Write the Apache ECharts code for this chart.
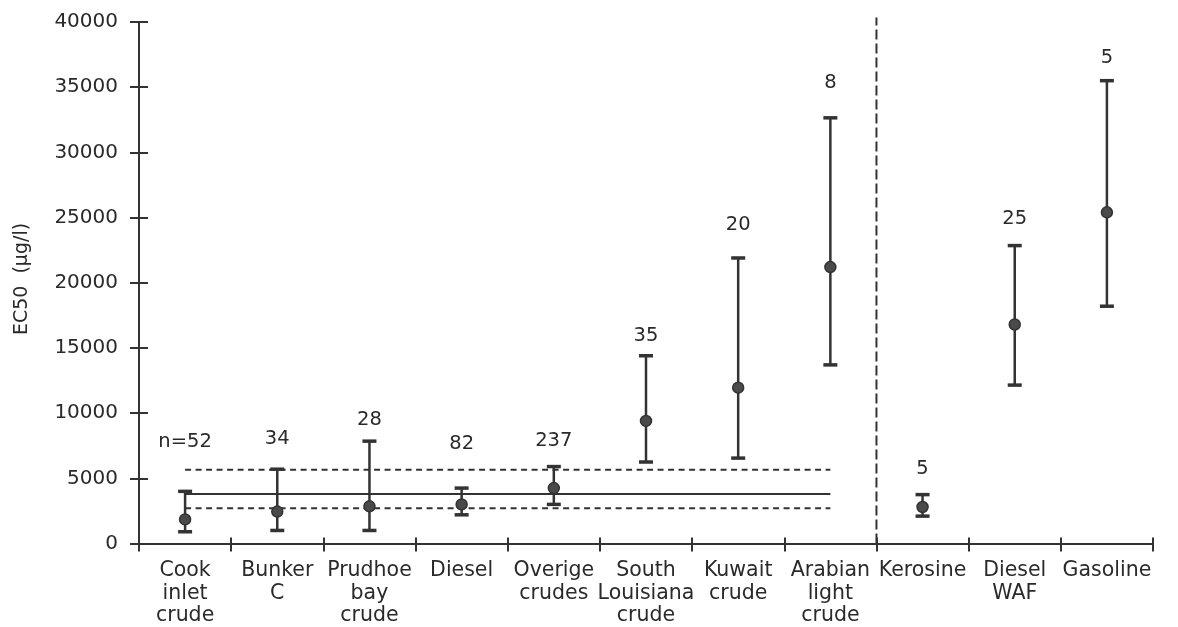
<!DOCTYPE html>
<html>
<head>
<meta charset="utf-8">
<script src="https://cdn.jsdelivr.net/npm/echarts@6/dist/echarts.min.js"></script>
<style>html,body{margin:0;padding:0;background:#fff;}#c{width:1178px;height:627px;}</style>
</head>
<body>
<div id="c"></div>
<script>
// ---- data ----
var categories = ['Cook\ninlet\ncrude', 'Bunker\nC', 'Prudhoe\nbay\ncrude', 'Diesel', 'Overige\ncrudes',
  'South\nLouisiana\ncrude', 'Kuwait\ncrude', 'Arabian\nlight\ncrude', 'Kerosine', 'Diesel\nWAF', 'Gasoline'];
var meanEC50 = [1850, 2450, 2850, 3000, 4250, 9400, 11950, 21200, 2800, 16800, 25400];
var lowerEC50 = [900, 1000, 1000, 2200, 3000, 6250, 6550, 13700, 2100, 12150, 18200];
var upperEC50 = [4000, 5700, 7850, 4250, 5900, 14400, 21900, 32650, 3750, 22850, 35500];
var nLabels = ['n=52', '34', '28', '82', '237', '35', '20', '8', '5', '25', '5'];
var nLabelY = [7800, 8000, 9450, 7650, 7900, 15900, 24450, 35300, 5750, 24900, 37250];
var crudeCount = 8;           // reference lines span the first 8 categories
var refMean = 3800;
var refUpper = 5650;
var refLower = 2700;
var yTicks = [0, 5000, 10000, 15000, 20000, 25000, 30000, 35000, 40000];

var ink = '#333333';
var txt = '#2a2a2a';
var font = 'DejaVu Sans';

function refLine(v) {
  return categories.map(function (c, i) { return i < crudeCount ? v : null; });
}
var errData = categories.map(function (c, i) { return [i, lowerEC50[i], upperEC50[i]]; });
var labelData = categories.map(function (c, i) { return [i, nLabelY[i]]; });

var chart = echarts.init(document.getElementById('c'));
chart.setOption({
  backgroundColor: '#fff',
  animation: false,
  grid: { left: 139, right: 25, top: 22, bottom: 82 },
  graphic: [{
    type: 'text',
    x: 22, y: 279,
    rotation: Math.PI / 2,
    style: { text: 'EC50  (µg/l)', fill: txt, font: '19px "' + font + '"', textAlign: 'center', textVerticalAlign: 'middle' }
  }],
  xAxis: [{
    type: 'category', data: categories, boundaryGap: true,
    axisLine: { lineStyle: { color: ink, width: 2 } },
    axisTick: { show: true, length: 8, inside: false, lineStyle: { color: ink, width: 2 }, alignWithLabel: false },
    axisLabel: { color: txt, fontFamily: font, fontSize: 20.5, lineHeight: 22.5, margin: 16, interval: 0 },
    splitLine: { show: false }
  }, {
    type: 'value', min: 0, max: categories.length, interval: 1, position: 'bottom',
    axisLine: { show: false },
    axisTick: { show: true, inside: true, length: 6, lineStyle: { color: ink, width: 2 } },
    axisLabel: { show: false },
    splitLine: { show: false }
  }],
  yAxis: [{
    type: 'value', min: yTicks[0], max: yTicks[yTicks.length - 1], interval: yTicks[1] - yTicks[0],
    axisLine: { show: true, lineStyle: { color: ink, width: 2 } },
    axisTick: { show: true, length: 9, lineStyle: { color: ink, width: 2 } },
    axisLabel: { color: txt, fontFamily: font, fontSize: 20, margin: 21, formatter: function (v) { return String(v); } },
    splitLine: { show: false }
  }, {
    type: 'value', min: yTicks[0], max: yTicks[yTicks.length - 1], interval: yTicks[1] - yTicks[0], position: 'left',
    axisLine: { show: false },
    axisTick: { show: true, inside: true, length: 9, lineStyle: { color: ink, width: 2 } },
    axisLabel: { show: false },
    splitLine: { show: false }
  }],
  series: [
    { type: 'line', data: refLine(refMean), symbol: 'none', lineStyle: { color: ink, width: 2 }, z: 2 },
    { type: 'line', data: refLine(refUpper), symbol: 'none', lineStyle: { color: ink, width: 2, type: [6, 4.5] }, z: 2 },
    { type: 'line', data: refLine(refLower), symbol: 'none', lineStyle: { color: ink, width: 2, type: [6, 4.5] }, z: 2 },
    {
      type: 'line', xAxisIndex: 1, data: [[crudeCount, 0], [crudeCount, 40350]], symbol: 'none', clip: false,
      lineStyle: { color: ink, width: 2, type: [10, 4] }, z: 2
    },
    {
      type: 'custom', data: errData, z: 3,
      renderItem: function (params, api) {
        var x = api.value(0);
        var lo = api.coord([x, api.value(1)]);
        var hi = api.coord([x, api.value(2)]);
        var cw = 7;
        var st = { stroke: ink, lineWidth: 2.5 };
        var capSt = { stroke: ink, lineWidth: 3.5 };
        return {
          type: 'group', children: [
            { type: 'line', shape: { x1: lo[0], y1: lo[1], x2: hi[0], y2: hi[1] }, style: st },
            { type: 'line', shape: { x1: lo[0] - cw, y1: lo[1], x2: lo[0] + cw, y2: lo[1] }, style: capSt },
            { type: 'line', shape: { x1: hi[0] - cw, y1: hi[1], x2: hi[0] + cw, y2: hi[1] }, style: capSt }
          ]
        };
      }
    },
    {
      type: 'scatter', data: meanEC50, symbol: 'circle', symbolSize: 11, z: 4,
      itemStyle: { color: '#4a4a4a', borderColor: ink, borderWidth: 1.5, opacity: 1 }
    },
    {
      type: 'scatter', data: labelData, symbolSize: 1, z: 5,
      itemStyle: { color: 'rgba(0,0,0,0)', opacity: 1 },
      label: {
        show: true, position: 'inside', color: txt, fontFamily: font, fontSize: 19.5, opacity: 1,
        formatter: function (p) { return nLabels[p.dataIndex]; }
      }
    }
  ]
});
</script>
</body>
</html>
